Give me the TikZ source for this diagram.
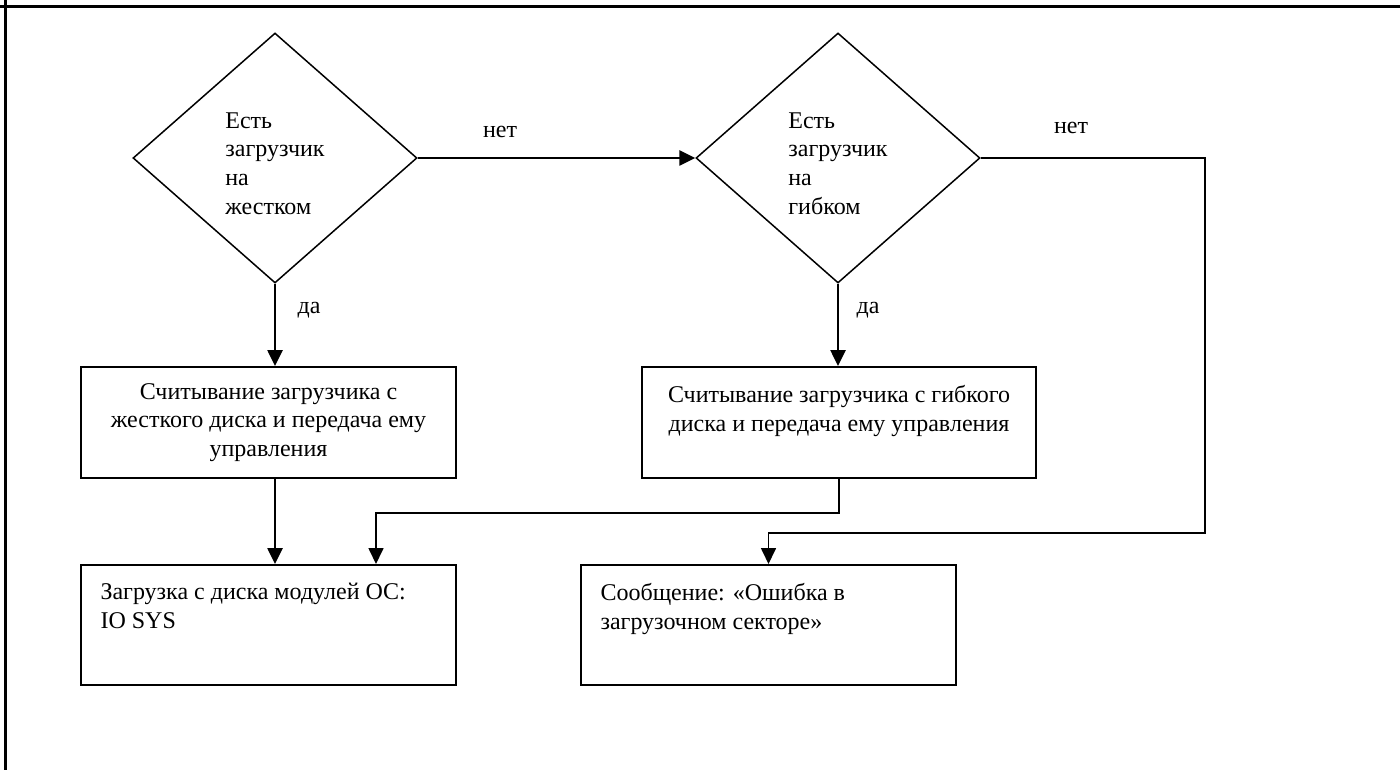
\documentclass[tikz,border=0pt]{standalone}
\usepackage{fontspec}
\setmainfont{Liberation Serif}
\usepackage{tikz}
\usetikzlibrary{arrows.meta,positioning,shapes.geometric,calc}

\begin{document}
\begin{tikzpicture}[x=1pt, y=-1pt,
    font=\fontsize{24}{28.7}\selectfont,
    decision/.style={diamond, draw, line width=1.5pt, aspect=1.136, inner sep=0pt,
        minimum width=284, minimum height=250},
    block/.style={rectangle, draw, line width=2pt, align=center},
    flow/.style={line width=2.6pt, -{Triangle[length=16pt, width=15pt]}},
    thinflow/.style={line width=1.7pt, -{Triangle[length=16pt, width=15pt]}}]

\useasboundingbox (0,0) rectangle (1400,770);

% frame
\draw[line width=3pt] (0,7) -- (1400,7);
\draw[line width=3pt] (5,0) -- (5,770);

% decisions
\node[decision] (hard) at (275,158) {};
\node[align=left] (hardq) at ([yshift=-5.5]hard.center) {Есть\\загрузчик\\на\\жестком};
\node[decision] (floppy) at (838,158) {};
\node[align=left] (floppyq) at ([yshift=-5.5]floppy.center) {Есть\\загрузчик\\на\\гибком};

% actions
\node[block, minimum width=375, minimum height=111] (readhard) at (268.5,422.5)
    {Считывание загрузчика с\\жесткого диска и передача ему\\управления};
\node[block, minimum width=394, minimum height=111] (readfloppy) at (839,422.5)
    {Считывание загрузчика с гибкого\\диска и передача ему управления\\~};

\node[block, minimum width=375, minimum height=120] (loados) at (268.5,625) {};
\node[anchor=north west, align=left] (loadtxt) at ([xshift=17, yshift=-16]loados.north west)
    {Загрузка с диска модулей ОС:\\IO SYS};

\node[block, minimum width=375, minimum height=120] (errmsg) at (768.5,625) {};
\node[anchor=north west, align=left] (errtxt) at ([xshift=17, yshift=-16]errmsg.north west)
    {Сообщение: «Ошибка в\\загрузочном секторе»};

% connectors
\draw[flow] (hard.east) -- (floppy.west);
\node (no1) at (500,132) {нет};

\draw[flow] (hard.south) -- (hard.south |- readhard.north);
\node (yes1) at (309,310) {да};

\draw[flow] (floppy.south) -- (floppy.south |- readfloppy.north);
\node (yes2) at (868,310) {да};

\draw[flow] (readhard.south -| hard.south) -- (loados.north -| hard.south);

\coordinate (joinos) at (376,513);
\draw[thinflow] (readfloppy.south) -- (readfloppy.south |- joinos) -- (joinos) -- (joinos |- loados.north);

\coordinate (turn) at (1205,533);
\draw[thinflow] (floppy.east) -| (turn) -| (errmsg.north);
\node (no2) at (1071,128) {нет};

\end{tikzpicture}
\end{document}
